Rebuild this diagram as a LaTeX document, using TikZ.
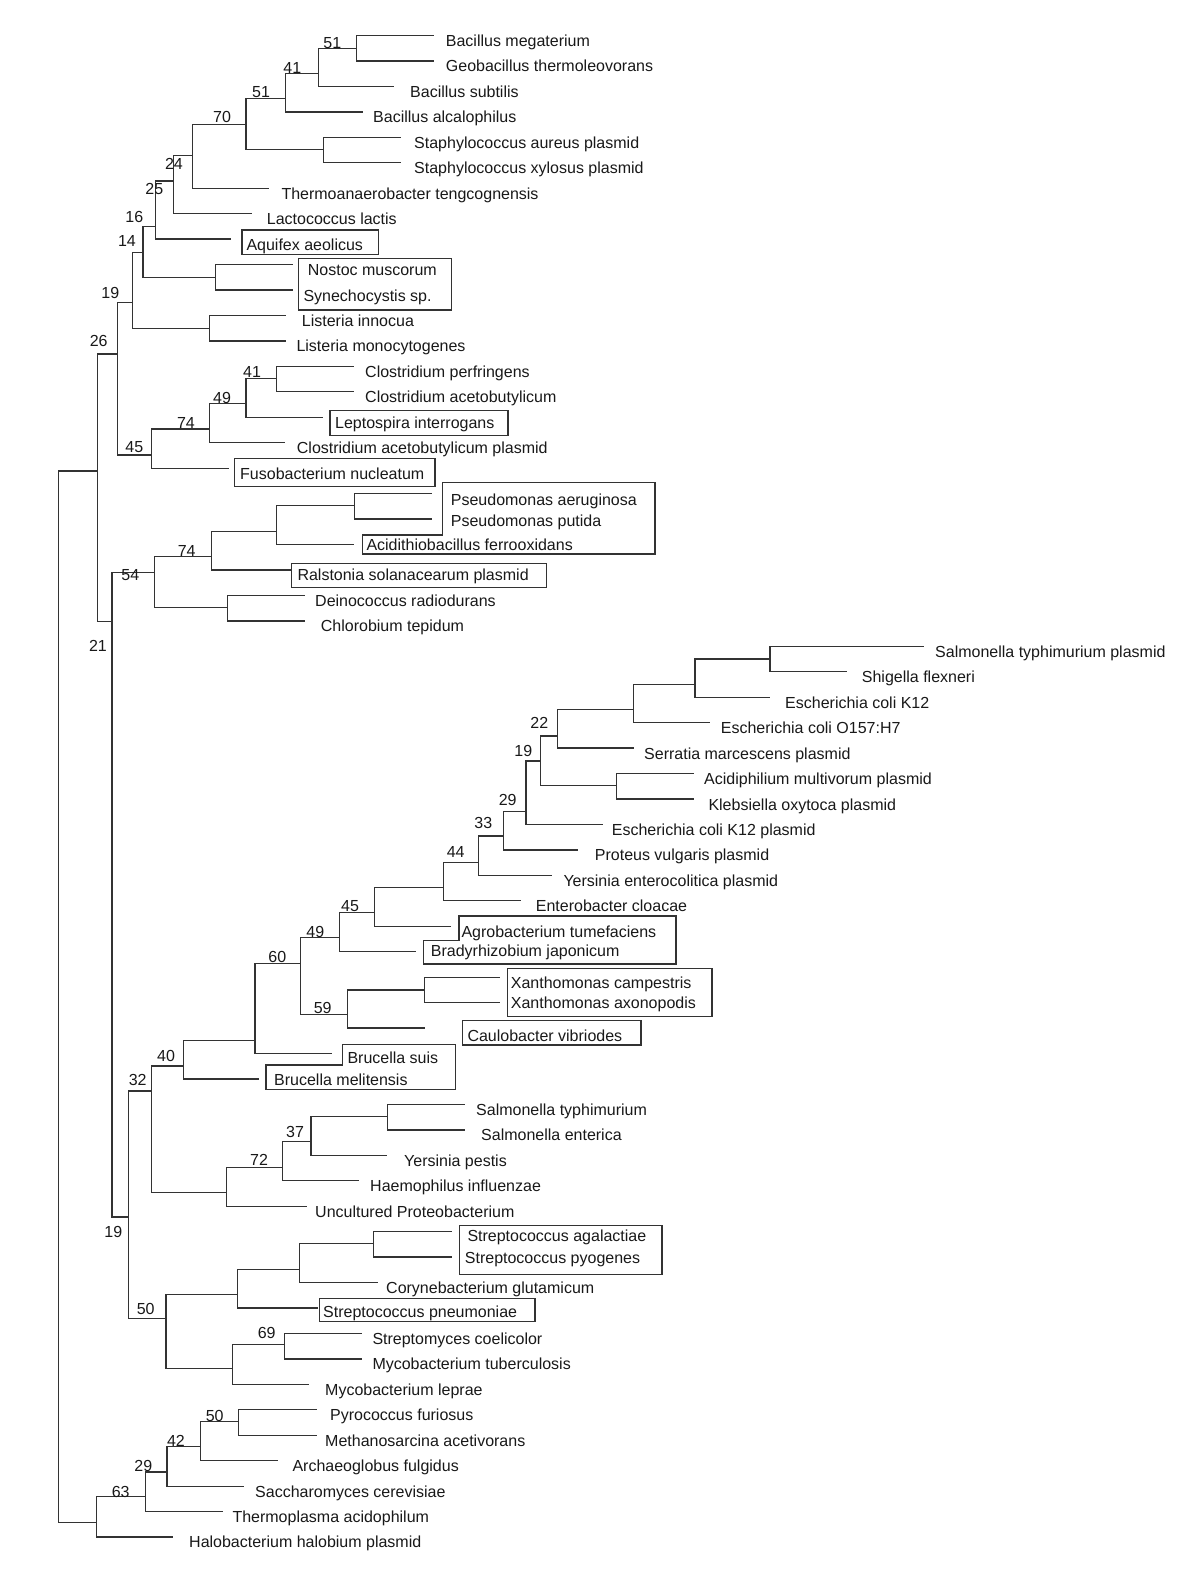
\documentclass[tikz,border=0pt]{standalone}
\usepackage{fontspec}
\setmainfont{Liberation Sans}
\begin{document}
\begin{tikzpicture}[x=1pt,y=-1pt]
\tikzset{
  br/.style={line width=1.3pt, draw=black!80},
  frame/.style={line width=1.3pt, draw=black!80},
  lf/.style={anchor=base west, inner sep=0pt, font=\fontsize{16}{19}\selectfont, text=black!90},
  bs/.style={inner sep=0pt, font=\fontsize{16}{19}\selectfont, text=black!90}
}
\fill[white] (0,0) rectangle (1200,1571);
\useasboundingbox (0,0) rectangle (1200,1571);

% internal nodes
\coordinate (R) at (58.3,1000);
\coordinate (A) at (97.3,471);
\coordinate (Arch) at (96.7,1522.7);
\coordinate (N26) at (117.3,354);
\coordinate (N21) at (112,621.7);
\coordinate (N19) at (132.3,302.7);
\coordinate (N45) at (151.7,455);
\coordinate (N14) at (143,252.3);
\coordinate (NL) at (209.3,328.3);
\coordinate (N16) at (155.3,226.7);
\coordinate (NS) at (215.3,277.3);
\coordinate (N25) at (173.3,181);
\coordinate (N24) at (192.7,155.3);
\coordinate (N70) at (246,124.3);
\coordinate (N51b) at (285.7,98.7);
\coordinate (NSt) at (323.7,149.7);
\coordinate (N41) at (318.3,73.3);
\coordinate (N51) at (356.7,48.3);
\coordinate (N74a) at (209.3,429);
\coordinate (N49a) at (246,403.3);
\coordinate (N41a) at (276.7,378.3);
\coordinate (N54) at (154.3,572.7);
\coordinate (N74b) at (211.7,556.7);
\coordinate (NP) at (276.7,531.3);
\coordinate (NPs) at (354.3,505.7);
\coordinate (NDC) at (227.7,607.3);
\coordinate (N19b) at (128.5,1217);
\coordinate (N32) at (151.7,1091);
\coordinate (N50) at (166,1318.7);
\coordinate (N40) at (183.3,1066);
\coordinate (N72) at (226.7,1192.7);
\coordinate (N37) at (282.7,1167.3);
\coordinate (N37b) at (311,1141.7);
\coordinate (NSal) at (387.3,1116.7);
\coordinate (N60) at (255,1040.3);
\coordinate (N49b) at (300.7,963.7);
\coordinate (N45b) at (339.3,937.7);
\coordinate (N59) at (347.7,1014.3);
\coordinate (NX) at (424.3,990);
\coordinate (N44) at (374.7,912.3);
\coordinate (N44b) at (443.3,887.3);
\coordinate (N33) at (478.7,862.3);
\coordinate (N29) at (503.3,836);
\coordinate (N19c) at (526,811.7);
\coordinate (N22) at (540.7,761);
\coordinate (N22b) at (557.3,736);
\coordinate (NAc) at (616.7,785.7);
\coordinate (NE1) at (633.7,709.7);
\coordinate (NE2) at (695,684.3);
\coordinate (NE3) at (770,659);
\coordinate (N50a) at (237.3,1294.7);
\coordinate (NStr) at (299.3,1269.3);
\coordinate (NSap) at (373.3,1243.3);
\coordinate (N69p) at (232.3,1368.3);
\coordinate (N69) at (284.3,1344.3);
\coordinate (N63) at (145.7,1496.7);
\coordinate (N29b) at (167,1472);
\coordinate (N42) at (200.3,1446.7);
\coordinate (N50b) at (238.7,1421.7);

% leaf tips
\coordinate (t1) at (434,35.5);
\coordinate (t2) at (434,60.95);
\coordinate (t3) at (394.3,86.4);
\coordinate (t4) at (362.7,111.85);
\coordinate (t5) at (401,137.3);
\coordinate (t6) at (401,162.75);
\coordinate (t7) at (269.3,188.2);
\coordinate (t8) at (251.7,213.65);
\coordinate (t9) at (231,239.1);
\coordinate (t10) at (293.3,264.55);
\coordinate (t11) at (293.3,290);
\coordinate (t12) at (286,315.45);
\coordinate (t13) at (286,340.9);
\coordinate (t14) at (354.3,366.35);
\coordinate (t15) at (354.3,391.8);
\coordinate (t16) at (322.7,417.25);
\coordinate (t17) at (285,442.7);
\coordinate (t18) at (229,468.15);
\coordinate (t19) at (431.7,493.6);
\coordinate (t20) at (431.7,519.05);
\coordinate (t21) at (354.3,544.5);
\coordinate (t22) at (291,569.95);
\coordinate (t23) at (305,595.4);
\coordinate (t24) at (305,620.85);
\coordinate (t25) at (924.3,646.3);
\coordinate (t26) at (846.7,671.75);
\coordinate (t27) at (770,697.2);
\coordinate (t28) at (710,722.65);
\coordinate (t29) at (633.7,748.1);
\coordinate (t30) at (694,773.55);
\coordinate (t31) at (694,799);
\coordinate (t32) at (603.3,824.45);
\coordinate (t33) at (578.3,849.9);
\coordinate (t34) at (552.3,875.35);
\coordinate (t35) at (520.7,900.8);
\coordinate (t36) at (451,926.25);
\coordinate (t37) at (416,951.7);
\coordinate (t38) at (500,977.15);
\coordinate (t39) at (500,1002.6);
\coordinate (t40) at (425,1028.05);
\coordinate (t41) at (331.7,1053.5);
\coordinate (t42) at (259,1078.95);
\coordinate (t43) at (465,1104.4);
\coordinate (t44) at (465,1129.85);
\coordinate (t45) at (387.3,1155.3);
\coordinate (t46) at (359.3,1180.75);
\coordinate (t47) at (306.7,1206.2);
\coordinate (t48) at (451.7,1231.65);
\coordinate (t49) at (451.7,1257.1);
\coordinate (t50) at (377.7,1282.55);
\coordinate (t51) at (318.3,1308);
\coordinate (t52) at (361.7,1333.45);
\coordinate (t53) at (361.7,1358.9);
\coordinate (t54) at (309.3,1384.35);
\coordinate (t55) at (316.7,1409.8);
\coordinate (t56) at (316.7,1435.25);
\coordinate (t57) at (277.7,1460.7);
\coordinate (t58) at (244,1486.15);
\coordinate (t59) at (222.7,1511.6);
\coordinate (t60) at (173.3,1537.05);

% branches
\foreach \p/\c in {R/A, R/Arch, A/N26, A/N21, N26/N19, N26/N45, N19/N14, N19/NL,
  N14/N16, N14/NS, N16/N25, N16/t9, N25/N24, N25/t8, N24/N70, N24/t7,
  N70/N51b, N70/NSt, N51b/N41, N51b/t4, N41/N51, N41/t3, N51/t1, N51/t2,
  NSt/t5, NSt/t6, NS/t10, NS/t11, NL/t12, NL/t13,
  N45/N74a, N45/t18, N74a/N49a, N74a/t17, N49a/N41a, N49a/t16, N41a/t14, N41a/t15,
  N21/N54, N21/N19b, N54/N74b, N54/NDC, N74b/NP, N74b/t22, NP/NPs, NP/t21,
  NPs/t19, NPs/t20, NDC/t23, NDC/t24,
  N19b/N32, N19b/N50, N32/N40, N32/N72, N40/N60, N40/t42, N60/N49b, N60/t41,
  N49b/N45b, N49b/N59, N45b/N44, N45b/t37, N44/N44b, N44/t36, N44b/N33, N44b/t35,
  N33/N29, N33/t34, N29/N19c, N29/t33, N19c/N22, N19c/t32, N22/N22b, N22/NAc,
  N22b/NE1, N22b/t29, NE1/NE2, NE1/t28, NE2/NE3, NE2/t27, NE3/t25, NE3/t26,
  NAc/t30, NAc/t31, N59/NX, N59/t40, NX/t38, NX/t39,
  N72/N37, N72/t47, N37/N37b, N37/t46, N37b/NSal, N37b/t45, NSal/t43, NSal/t44,
  N50/N50a, N50/N69p, N50a/NStr, N50a/t51, NStr/NSap, NStr/t50, NSap/t48, NSap/t49,
  N69p/N69, N69p/t54, N69/t52, N69/t53,
  Arch/N63, Arch/t60, N63/N29b, N63/t59, N29b/N42, N29b/t58, N42/N50b, N42/t57,
  N50b/t55, N50b/t56}
  \draw[br] (\p) |- (\c);

% frames
\draw[frame] (242,230) rectangle (378.7,254.3);
\draw[frame] (298.3,258.3) rectangle (451.7,310);
\draw[frame] (330,410.7) rectangle (508,435.7);
\draw[frame] (234.3,458.3) rectangle (435,486.7);
\draw[frame] (442.3,482.7) -- (655,482.7) -- (655,554) -- (362.3,554) -- (362.3,535) -- (442.3,535) -- cycle;
\draw[frame] (291.7,563.3) rectangle (546.7,587.3);
\draw[frame] (459,916) -- (676,916) -- (676,964) -- (423.3,964) -- (423.3,940.7) -- (459,940.7) -- cycle;
\draw[frame] (507.7,968.3) rectangle (712,1016.7);
\draw[frame] (462.7,1020.7) rectangle (641,1045);
\draw[frame] (342.7,1044.3) -- (455.3,1044.3) -- (455.3,1089.3) -- (266,1089.3) -- (266,1065) -- (342.7,1065) -- cycle;
\draw[frame] (459.3,1225.7) rectangle (662,1274.3);
\draw[frame] (319.3,1298.3) rectangle (535,1321.7);

% leaf labels
\node[lf] (L1) at (445.7,46.5) {Bacillus megaterium};
\node[lf] (L2) at (445.7,71.95) {Geobacillus thermoleovorans};
\node[lf] (L3) at (410,97.4) {Bacillus subtilis};
\node[lf] (L4) at (373,122.85) {Bacillus alcalophilus};
\node[lf] (L5) at (414,148.3) {Staphylococcus aureus plasmid};
\node[lf] (L6) at (414,173.75) {Staphylococcus xylosus plasmid};
\node[lf] (L7) at (281.3,199.2) {Thermoanaerobacter tengcognensis};
\node[lf] (L8) at (266.7,224.65) {Lactococcus lactis};
\node[lf] (L9) at (246.3,250.1) {Aquifex aeolicus};
\node[lf] (L10) at (307.7,275.55) {Nostoc muscorum};
\node[lf] (L11) at (303.3,301) {Synechocystis sp.};
\node[lf] (L12) at (301.7,326.45) {Listeria innocua};
\node[lf] (L13) at (296.3,351.9) {Listeria monocytogenes};
\node[lf] (L14) at (365,377.35) {Clostridium perfringens};
\node[lf] (L15) at (365,402.8) {Clostridium acetobutylicum};
\node[lf] (L16) at (335,428.25) {Leptospira interrogans};
\node[lf] (L17) at (296.7,453.7) {Clostridium acetobutylicum plasmid};
\node[lf] (L18) at (240,479.15) {Fusobacterium nucleatum};
\node[lf] (L19) at (450.7,505) {Pseudomonas aeruginosa};
\node[lf] (L20) at (450.7,526.7) {Pseudomonas putida};
\node[lf] (L21) at (366.3,550.7) {Acidithiobacillus ferrooxidans};
\node[lf] (L22) at (297.3,580.95) {Ralstonia solanacearum plasmid};
\node[lf] (L23) at (315,606.4) {Deinococcus radiodurans};
\node[lf] (L24) at (320.7,631.85) {Chlorobium tepidum};
\node[lf] (L25) at (935,657.3) {Salmonella typhimurium plasmid};
\node[lf] (L26) at (861.7,682.75) {Shigella flexneri};
\node[lf] (L27) at (785,708.2) {Escherichia coli K12};
\node[lf] (L28) at (720.7,733.65) {Escherichia coli O157:H7};
\node[lf] (L29) at (644,759.1) {Serratia marcescens plasmid};
\node[lf] (L30) at (704,784.55) {Acidiphilium multivorum plasmid};
\node[lf] (L31) at (708.3,810) {Klebsiella oxytoca plasmid};
\node[lf] (L32) at (611.7,835.45) {Escherichia coli K12 plasmid};
\node[lf] (L33) at (594.7,860.9) {Proteus vulgaris plasmid};
\node[lf] (L34) at (563.3,886.35) {Yersinia enterocolitica plasmid};
\node[lf] (L35) at (535.7,911.8) {Enterobacter cloacae};
\node[lf] (L36) at (461.3,937.3) {Agrobacterium tumefaciens};
\node[lf] (L37) at (430.7,956.7) {Bradyrhizobium japonicum};
\node[lf] (L38) at (510.7,988.2) {Xanthomonas campestris};
\node[lf] (L39) at (510.7,1008.3) {Xanthomonas axonopodis};
\node[lf] (L40) at (467.3,1041.7) {Caulobacter vibriodes};
\node[lf] (L41) at (347.3,1063.3) {Brucella suis};
\node[lf] (L42) at (274,1085) {Brucella melitensis};
\node[lf] (L43) at (476,1115.4) {Salmonella typhimurium};
\node[lf] (L44) at (481,1140.85) {Salmonella enterica};
\node[lf] (L45) at (404,1166.3) {Yersinia pestis};
\node[lf] (L46) at (370,1191.75) {Haemophilus influenzae};
\node[lf] (L47) at (315,1217.2) {Uncultured Proteobacterium};
\node[lf] (L48) at (467.3,1241.7) {Streptococcus agalactiae};
\node[lf] (L49) at (464.7,1263.3) {Streptococcus pyogenes};
\node[lf] (L50) at (386,1293.55) {Corynebacterium glutamicum};
\node[lf] (L51) at (323,1317.3) {Streptococcus pneumoniae};
\node[lf] (L52) at (372.3,1344.45) {Streptomyces coelicolor};
\node[lf] (L53) at (372.3,1369.9) {Mycobacterium tuberculosis};
\node[lf] (L54) at (325,1395.35) {Mycobacterium leprae};
\node[lf] (L55) at (330,1420.8) {Pyrococcus furiosus};
\node[lf] (L56) at (325,1446.25) {Methanosarcina acetivorans};
\node[lf] (L57) at (292.3,1471.7) {Archaeoglobus fulgidus};
\node[lf] (L58) at (255,1497.15) {Saccharomyces cerevisiae};
\node[lf] (L59) at (232.3,1522.6) {Thermoplasma acidophilum};
\node[lf] (L60) at (189,1547) {Halobacterium halobium plasmid};

% bootstrap values
\node[bs] (b51a) at (332.3,42.7) {51};
\node[bs] (b41a) at (292.3,68.3) {41};
\node[bs] (b51b) at (261,91.7) {51};
\node[bs] (b70) at (222,117) {70};
\node[bs] (b24) at (174,164.3) {24};
\node[bs] (b25) at (154.3,189) {25};
\node[bs] (b16) at (134.3,216.7) {16};
\node[bs] (b14) at (127,240.7) {14};
\node[bs] (b19a) at (110.3,293.3) {19};
\node[bs] (b26) at (98.7,341) {26};
\node[bs] (b41b) at (252,372.3) {41};
\node[bs] (b49a) at (222,398.3) {49};
\node[bs] (b74a) at (186,423.3) {74};
\node[bs] (b45a) at (134.3,446.7) {45};
\node[bs] (b74b) at (186.7,550.7) {74};
\node[bs] (b54) at (130.3,575.3) {54};
\node[bs] (b21) at (98,646) {21};
\node[bs] (b22) at (539.3,723.3) {22};
\node[bs] (b19b) at (523.3,750.7) {19};
\node[bs] (b29a) at (507.7,800) {29};
\node[bs] (b33) at (483.3,823.3) {33};
\node[bs] (b44) at (455.7,851.7) {44};
\node[bs] (b45b) at (350,906) {45};
\node[bs] (b49b) at (315.3,931.7) {49};
\node[bs] (b60) at (277.3,957.3) {60};
\node[bs] (b59) at (322.7,1007.7) {59};
\node[bs] (b40) at (166,1055.7) {40};
\node[bs] (b32) at (137.7,1080) {32};
\node[bs] (b37) at (295,1131.7) {37};
\node[bs] (b72) at (259,1160) {72};
\node[bs] (b19c) at (113.3,1232.3) {19};
\node[bs] (b50a) at (145.7,1309) {50};
\node[bs] (b69) at (266.7,1333.3) {69};
\node[bs] (b50b) at (214.7,1416) {50};
\node[bs] (b42) at (176,1440.7) {42};
\node[bs] (b29b) at (143.3,1465.7) {29};
\node[bs] (b63) at (120.7,1491.7) {63};
\end{tikzpicture}
\end{document}
